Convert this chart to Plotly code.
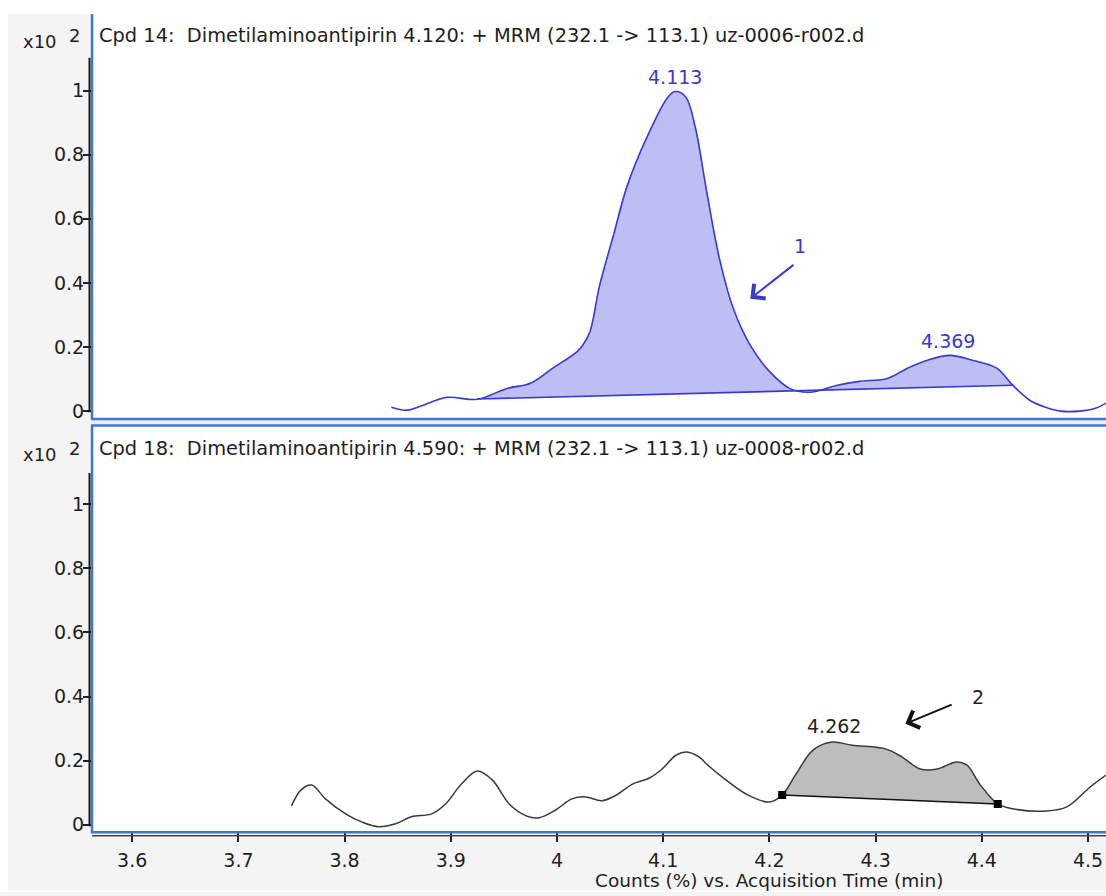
import plotly.graph_objects as go

# ---------------- data ----------------
# Top trace (Cpd 14) : acquisition time (min), counts (x10^2)
t1 = [3.844, 3.858, 3.872, 3.896, 3.925, 3.953, 3.975, 3.996, 4.019, 4.024,
      4.031, 4.040, 4.053, 4.066, 4.085, 4.104, 4.111, 4.121, 4.130, 4.141,
      4.153, 4.166, 4.182, 4.200, 4.219, 4.238, 4.264, 4.285, 4.311, 4.330,
      4.348, 4.370, 4.392, 4.414, 4.429, 4.445, 4.460, 4.474, 4.492, 4.507, 4.517]
v1 = [0.012, 0.003, 0.016, 0.043, 0.037, 0.071, 0.087, 0.134, 0.186, 0.205,
      0.248, 0.391, 0.547, 0.702, 0.857, 0.978, 0.997, 0.981, 0.888, 0.683,
      0.475, 0.320, 0.205, 0.124, 0.071, 0.059, 0.081, 0.093, 0.102, 0.134,
      0.158, 0.174, 0.158, 0.134, 0.081, 0.034, 0.012, 0.000, 0.000, 0.009, 0.025]
base1_t = [3.925, 4.429]
base1_v = [0.038, 0.081]
peak1_windows = [(3.925, 4.226), (4.248, 4.429)]
peak1_labels = ["4.113", "4.369"]
peak1_label_t = [4.111, 4.368]
peak1_label_v = [1.043, 0.220]

# Bottom trace (Cpd 18)
t2 = [3.750, 3.759, 3.769, 3.782, 3.801, 3.816, 3.832, 3.848, 3.863, 3.882,
      3.895, 3.910, 3.925, 3.939, 3.955, 3.971, 3.983, 3.999, 4.014, 4.027,
      4.042, 4.056, 4.071, 4.087, 4.099, 4.112, 4.122, 4.134, 4.141, 4.159,
      4.178, 4.200, 4.212, 4.225, 4.241, 4.259, 4.278, 4.310, 4.325, 4.342,
      4.358, 4.376, 4.386, 4.398, 4.415, 4.429, 4.461, 4.480, 4.502, 4.517]
v2 = [0.059, 0.109, 0.124, 0.081, 0.034, 0.009, -0.006, 0.003, 0.025, 0.034,
      0.065, 0.127, 0.168, 0.140, 0.065, 0.028, 0.022, 0.047, 0.081, 0.087,
      0.075, 0.093, 0.127, 0.146, 0.174, 0.217, 0.227, 0.211, 0.189, 0.140,
      0.096, 0.071, 0.093, 0.158, 0.233, 0.258, 0.248, 0.236, 0.211, 0.174,
      0.174, 0.196, 0.186, 0.127, 0.065, 0.050, 0.043, 0.056, 0.118, 0.155]
base2_t = [4.212, 4.415]
base2_v = [0.093, 0.065]
peak2_windows = [(4.212, 4.415)]
peak2_labels = ["4.262"]
peak2_label_t = [4.261]
peak2_label_v = [0.309]

# arrows: (tail_t, tail_v, head_t, head_v), label
arrow1 = (4.224, 0.460, 4.182, 0.351)
arrow1_label = ("1", 4.229, 0.516)
arrow2 = (4.373, 0.377, 4.328, 0.315)
arrow2_label = ("2", 4.396, 0.399)

x_ticks = [3.6, 3.7, 3.8, 3.9, 4.0, 4.1, 4.2, 4.3, 4.4, 4.5]
x_tick_text = ["3.6", "3.7", "3.8", "3.9", "4", "4.1", "4.2", "4.3", "4.4", "4.5"]
y_ticks = [0, 0.2, 0.4, 0.6, 0.8, 1]
y_tick_text = ["0", "0.2", "0.4", "0.6", "0.8", "1"]

title1 = "Cpd 14:\u00a0 Dimetilaminoantipirin 4.120: + MRM (232.1 -> 113.1) uz-0006-r002.d"
title2 = "Cpd 18:\u00a0 Dimetilaminoantipirin 4.590: + MRM (232.1 -> 113.1) uz-0008-r002.d"
x_title = "Counts (%) vs. Acquisition Time (min)"

# ---------------- styling ----------------
W, H = 1106, 896
FONT = "DejaVu Sans"
BLUE = "#3838d2"
BLUE_FILL = "#bcbef4"
GRAY_LINE = "#3a3a3a"
GRAY_FILL = "#bdbdbd"
FRAME = "#3c78d6"
TXT = "#1e1e1e"


def px(x):
    return x / W


def py(y):
    return 1 - y / H


def peak_polygon(t, v, bt, bv, start, end):
    slope = (bv[1] - bv[0]) / (bt[1] - bt[0])

    def base(x):
        return bv[0] + slope * (x - bt[0])
    xs = [start] + [a for a in t if start < a < end] + [end]
    ys = [base(start)] + [b for a, b in zip(t, v) if start < a < end] + [base(end)]
    return xs, ys


fig = go.Figure()

# --- top panel
for (s, e) in peak1_windows:
    xs, ys = peak_polygon(t1, v1, base1_t, base1_v, s, e)
    fig.add_trace(go.Scatter(x=xs, y=ys, fill="toself", fillcolor=BLUE_FILL,
                             mode="lines", line=dict(width=0, color=BLUE_FILL, shape="spline", smoothing=0.5),
                             xaxis="x", yaxis="y", hoverinfo="skip"))
fig.add_trace(go.Scatter(x=base1_t, y=base1_v, mode="lines",
                         line=dict(color=BLUE, width=1.6), xaxis="x", yaxis="y"))
fig.add_trace(go.Scatter(x=t1, y=v1, mode="lines",
                         line=dict(color=BLUE, width=1.6, shape="spline", smoothing=1.0),
                         xaxis="x", yaxis="y"))

# --- bottom panel
for (s, e) in peak2_windows:
    xs, ys = peak_polygon(t2, v2, base2_t, base2_v, s, e)
    fig.add_trace(go.Scatter(x=xs, y=ys, fill="toself", fillcolor=GRAY_FILL,
                             mode="lines", line=dict(width=0, color=GRAY_FILL, shape="spline", smoothing=0.5),
                             xaxis="x2", yaxis="y2", hoverinfo="skip"))
fig.add_trace(go.Scatter(x=base2_t, y=base2_v, mode="lines",
                         line=dict(color="#111111", width=1.6), xaxis="x2", yaxis="y2"))
fig.add_trace(go.Scatter(x=t2, y=v2, mode="lines",
                         line=dict(color=GRAY_LINE, width=1.5, shape="spline", smoothing=1.0),
                         xaxis="x2", yaxis="y2"))
fig.add_trace(go.Scatter(x=base2_t, y=base2_v, mode="markers",
                         marker=dict(symbol="square", size=8, color="#000000"),
                         xaxis="x2", yaxis="y2"))

# ---------------- axes ----------------
x_range = [3.5631, 4.5169]
tickfont = dict(family=FONT, size=19, color=TXT)
common_y = dict(tickvals=y_ticks, ticktext=y_tick_text, ticks="outside", ticklen=9,
                tickwidth=1.5, tickcolor="#222222", showgrid=False, zeroline=False,
                showline=False, tickfont=tickfont, fixedrange=True, ticklabelstandoff=-5)

fig.update_layout(
    width=W, height=H,
    margin=dict(l=0, r=0, t=0, b=0),
    paper_bgcolor="#f4f4f4",
    plot_bgcolor="#ffffff",
    showlegend=False,
    xaxis=dict(domain=[px(93), 1], range=x_range, anchor="y", showticklabels=False,
               ticks="", showgrid=False, zeroline=False, showline=False),
    yaxis=dict(domain=[py(420), py(14)], range=[(413 - 420) / 322, (413 - 14) / 322],
               anchor="x", **common_y),
    xaxis2=dict(domain=[px(93), 1], range=x_range, anchor="y2", tickvals=x_ticks,
                ticktext=x_tick_text, ticks="outside", ticklen=9, tickwidth=1.5,
                tickcolor="#222222", showgrid=False, zeroline=False, showline=False,
                tickfont=tickfont, ticklabelstandoff=2),
    yaxis2=dict(domain=[py(836), py(428)], range=[(828.5 - 836) / 322, (828.5 - 428) / 322],
                anchor="x2", **common_y),
)

# ---------------- frame shapes ----------------
shapes = []
# white outer strips
for (x0, x1, y0, y1) in [(0, 1, py(14), 1), (0, px(8), 0, 1), (0, 1, 0, py(894))]:
    shapes.append(dict(type="rect", xref="paper", yref="paper", x0=x0, x1=x1, y0=y0, y1=y1,
                       fillcolor="white", line=dict(width=0), layer="below"))


def pline(x0, y0, x1, y1, color, width):
    return dict(type="line", xref="paper", yref="paper", x0=px(x0), y0=py(y0),
                x1=px(x1), y1=py(y1), line=dict(color=color, width=width), layer="above")


# light band between panels
shapes.append(dict(type="rect", xref="paper", yref="paper", x0=px(91), x1=1, y0=py(427), y1=py(421),
                   fillcolor="#e6eef9", line=dict(width=0), layer="below"))
# blue borders
shapes.append(pline(92, 14, 92, 421.5, FRAME, 2.5))
shapes.append(pline(91, 420.8, 1106, 420.8, FRAME, 2.5))
shapes.append(pline(91, 427.3, 1106, 427.3, FRAME, 2.5))
shapes.append(pline(92, 427, 92, 837, FRAME, 2.5))
shapes.append(pline(91, 836, 1106, 836, FRAME, 2.5))
# black axis lines
shapes.append(pline(89.5, 58, 89.5, 414, "#1a1a1a", 2))
shapes.append(pline(89.5, 475, 89.5, 830, "#1a1a1a", 2))
shapes.append(pline(92, 839.5, 1106, 839.5, "#444444", 1.5))
fig.update_layout(shapes=shapes)

# ---------------- annotations ----------------
ann = []


def ptext(text, x, y, size=19, color=TXT, xanchor="center"):
    return dict(text=text, xref="paper", yref="paper", x=px(x), y=py(y), showarrow=False,
                xanchor=xanchor, yanchor="middle", font=dict(family=FONT, size=size, color=color))


ann.append(ptext(title1, 97, 36, size=19.4, xanchor="left"))
ann.append(ptext(title2, 97, 451, size=19.4, xanchor="left"))
for yy, ys in [(42, 36), (457, 451)]:
    ann.append(ptext("x10", 40, yy, size=18))
    ann.append(ptext("2", 74, ys, size=18))
ann.append(ptext(x_title, 769, 884, size=18.5))

for lab, lt, lv in zip(peak1_labels, peak1_label_t, peak1_label_v):
    ann.append(dict(text=lab, x=lt, y=lv, xref="x", yref="y", showarrow=False,
                    font=dict(family=FONT, size=19, color=BLUE)))
for lab, lt, lv in zip(peak2_labels, peak2_label_t, peak2_label_v):
    ann.append(dict(text=lab, x=lt, y=lv, xref="x2", yref="y2", showarrow=False,
                    font=dict(family=FONT, size=19, color=TXT)))

ann.append(dict(text="", x=arrow1[2], y=arrow1[3], ax=arrow1[0], ay=arrow1[1],
                xref="x", yref="y", axref="x", ayref="y", showarrow=True,
                arrowhead=4, arrowsize=1.8, arrowwidth=2, arrowcolor=BLUE, standoff=0))
ann.append(dict(text=arrow1_label[0], x=arrow1_label[1], y=arrow1_label[2], xref="x", yref="y",
                showarrow=False, font=dict(family=FONT, size=19, color=BLUE)))
ann.append(dict(text="", x=arrow2[2], y=arrow2[3], ax=arrow2[0], ay=arrow2[1],
                xref="x2", yref="y2", axref="x2", ayref="y2", showarrow=True,
                arrowhead=4, arrowsize=1.8, arrowwidth=2, arrowcolor="#111111", standoff=0))
ann.append(dict(text=arrow2_label[0], x=arrow2_label[1], y=arrow2_label[2], xref="x2", yref="y2",
                showarrow=False, font=dict(family=FONT, size=19, color=TXT)))

fig.update_layout(annotations=ann)

# remove the default 8px page margin so the figure fills the window exactly
fig.write_html("out.html", config={"displayModeBar": False},
               post_script="document.body.style.margin='0px';document.body.style.overflow='hidden';")
